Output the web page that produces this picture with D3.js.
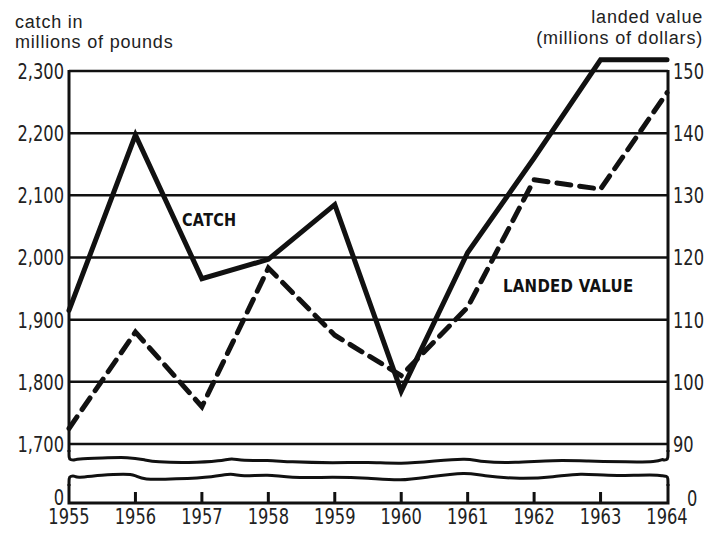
<!DOCTYPE html>
<meta charset="utf-8">
<style>
    body {
        margin: 0;
        background-color: #fff;
    }

    svg {
        display: block;
    }

    .tick-label {
        font-family: "DejaVu Sans", sans-serif;
        font-size: 22px;
        fill: #222;
    }

    .axis-title {
        font-family: "Liberation Sans", sans-serif;
        font-size: 18px;
        letter-spacing: 0.8px;
        fill: #222;
    }

    .series-label {
        font-family: "DejaVu Sans", sans-serif;
        font-weight: bold;
        font-size: 17px;
        letter-spacing: 0.3px;
        fill: #111;
    }

    .grid line {
        stroke: #111;
        stroke-width: 2.5px;
    }

    .frame {
        stroke: #111;
        stroke-width: 3px;
        fill: none;
    }
</style>
<svg width="709" height="535"></svg>
<script src="https://d3js.org/d3.v7.min.js"></script>
<script>
    // data
    var years = [1955, 1956, 1957, 1958, 1959, 1960, 1961, 1962, 1963, 1964];
    var catchMillionLbs = [1915, 2197, 1966, 1997, 2085, 1785, 2008, 2160, 2318, 2318];
    var landedValue = [92.5, 108, 96, 118.3, 107.5, 101, 112, 132.5, 131, 146.5];

    var leftTicks = [1700, 1800, 1900, 2000, 2100, 2200, 2300];
    var rightTicks = [90, 100, 110, 120, 130, 140, 150];

    // hand-drawn axis break wiggles: [year, offset px]
    var breakUpper = [[1955.1, -1], [1955.5, -2], [1955.9, -3], [1956.15, 0], [1956.3, 2], [1956.8, 3],
        [1957.3, 1], [1957.45, -2], [1957.6, 1], [1958, 0], [1958.3, 2], [1959, 3], [1959.5, 2],
        [1960, 4], [1960.5, 1], [1961, -2], [1961.2, 2], [1961.7, 3], [1962.3, 0], [1962.8, 1],
        [1963.4, 2], [1963.85, 2], [1963.95, -1]];
    var breakLower = [[1955.1, 2], [1955.5, -1], [1955.85, -2], [1956, -1], [1956.1, 4], [1956.6, 3],
        [1957.2, 1], [1957.45, -3], [1957.6, 1], [1958, -2], [1958.3, 2], [1959, 1], [1959.5, 2],
        [1960, 5], [1960.4, 1], [1961, -4], [1961.2, 0], [1961.8, 3], [1962.3, 1], [1962.7, -3],
        [1963.1, 0], [1963.6, -1], [1963.9, -1]];

    var svg = d3.select("svg");

    var plotLeft = 69,
        plotRight = 668,
        plotTop = 71,
        plotBottom = 444,
        breakA = 460,
        breakB = 476,
        baseY = 503,
        squeeze = 0.74; // fake a condensed face

    var x = d3.scaleLinear().domain([1955, 1964]).range([plotLeft, 667]);
    var yLeft = d3.scaleLinear().domain([1700, 2300]).range([plotBottom, plotTop]);
    var yRight = d3.scaleLinear().domain([90, 150]).range([plotBottom, plotTop]);

    function at(px, py) {
        return "translate(" + px + "," + py + ") scale(" + squeeze + ",1)";
    }

    // gridlines
    svg.append("g")
        .attr("class", "grid")
        .selectAll("line")
        .data(leftTicks)
        .enter().append("line")
        .attr("x1", plotLeft)
        .attr("x2", plotRight)
        .attr("y1", function(d) { return yLeft(d); })
        .attr("y2", function(d) { return yLeft(d); });

    // frame: upper part
    svg.append("line").attr("class", "frame")
        .attr("x1", plotLeft).attr("x2", plotLeft).attr("y1", plotTop - 1).attr("y2", breakA - 8);
    svg.append("line").attr("class", "frame")
        .attr("x1", plotRight).attr("x2", plotRight).attr("y1", plotTop - 1).attr("y2", breakA - 8);

    var wiggle = d3.line()
        .x(function(d) { return d[0]; })
        .y(function(d) { return d[1]; })
        .curve(d3.curveBasis);

    function breakPath(pts, yMid, dir) {
        var p = [[plotLeft, yMid - 10 * dir], [plotLeft, yMid - 2 * dir], [plotLeft + 1, yMid], [plotLeft + 7, yMid]];
        pts.forEach(function(d) { p.push([x(d[0]), yMid + d[1]]); });
        p.push([plotRight - 6, yMid], [plotRight - 1, yMid], [plotRight, yMid - 2 * dir], [plotRight, yMid - 10 * dir]);
        return wiggle(p);
    }

    svg.append("path").attr("class", "frame")
        .attr("d", breakPath(breakUpper, breakA, 1));
    svg.append("path").attr("class", "frame")
        .attr("d", breakPath(breakLower, breakB, -1));

    // frame: lower part
    svg.append("path").attr("class", "frame")
        .attr("d", "M" + plotLeft + "," + (breakB + 8) + "V" + baseY + "H" + plotRight + "V" + (breakB + 8));

    // year ticks
    svg.append("g")
        .selectAll("line")
        .data(years.slice(1, -1))
        .enter().append("line")
        .attr("class", "frame")
        .attr("x1", function(d) { return x(d); })
        .attr("x2", function(d) { return x(d); })
        .attr("y1", baseY)
        .attr("y2", baseY - 11);

    // tick labels
    svg.append("g")
        .selectAll("text")
        .data(leftTicks)
        .enter().append("text")
        .attr("class", "tick-label")
        .attr("transform", function(d) { return at(plotLeft - 5, yLeft(d)); })
        .attr("dy", "0.36em")
        .attr("text-anchor", "end")
        .text(d3.format(","));

    svg.append("text")
        .attr("class", "tick-label")
        .attr("transform", at(plotLeft - 5, baseY - 6))
        .attr("dy", "0.36em")
        .attr("text-anchor", "end")
        .text("0");

    svg.append("g")
        .selectAll("text")
        .data(rightTicks)
        .enter().append("text")
        .attr("class", "tick-label")
        .attr("transform", function(d) { return at(plotRight + 5, yRight(d)); })
        .attr("dy", "0.36em")
        .text(function(d) { return d; });

    svg.append("text")
        .attr("class", "tick-label")
        .attr("transform", at(plotRight + 19, baseY - 5))
        .attr("dy", "0.36em")
        .text("0");

    svg.append("g")
        .selectAll("text")
        .data(years)
        .enter().append("text")
        .attr("class", "tick-label")
        .attr("transform", function(d) { return at(x(d), 524); })
        .attr("text-anchor", "middle")
        .text(function(d) { return d; });

    // axis titles
    svg.append("text").attr("class", "axis-title").attr("x", 15).attr("y", 28).text("catch in");
    svg.append("text").attr("class", "axis-title").attr("x", 15).attr("y", 48).text("millions of pounds");
    svg.append("text").attr("class", "axis-title").attr("x", 703).attr("y", 23)
        .attr("text-anchor", "end").text("landed value");
    svg.append("text").attr("class", "axis-title").attr("x", 703).attr("y", 44)
        .attr("text-anchor", "end").text("(millions of dollars)");

    // series
    var catchLine = d3.line()
        .x(function(d, i) { return x(years[i]); })
        .y(function(d) { return yLeft(d); });

    var valueLine = d3.line()
        .x(function(d, i) { return x(years[i]); })
        .y(function(d) { return yRight(d); });

    svg.append("path")
        .datum(landedValue)
        .attr("d", valueLine)
        .attr("fill", "none")
        .attr("stroke", "#111")
        .attr("stroke-width", 5)
        .attr("stroke-dasharray", "14,9")
        .attr("stroke-linecap", "round");

    svg.append("path")
        .datum(catchMillionLbs)
        .attr("d", catchLine)
        .attr("fill", "none")
        .attr("stroke", "#111")
        .attr("stroke-width", 5)
        .attr("stroke-linejoin", "miter")
        .attr("stroke-linecap", "round");

    svg.append("text").attr("class", "series-label")
        .attr("transform", "translate(182,226) scale(0.85,1)").text("CATCH");
    svg.append("text").attr("class", "series-label")
        .attr("transform", "translate(503,292) scale(0.88,1)").text("LANDED VALUE");
</script>
